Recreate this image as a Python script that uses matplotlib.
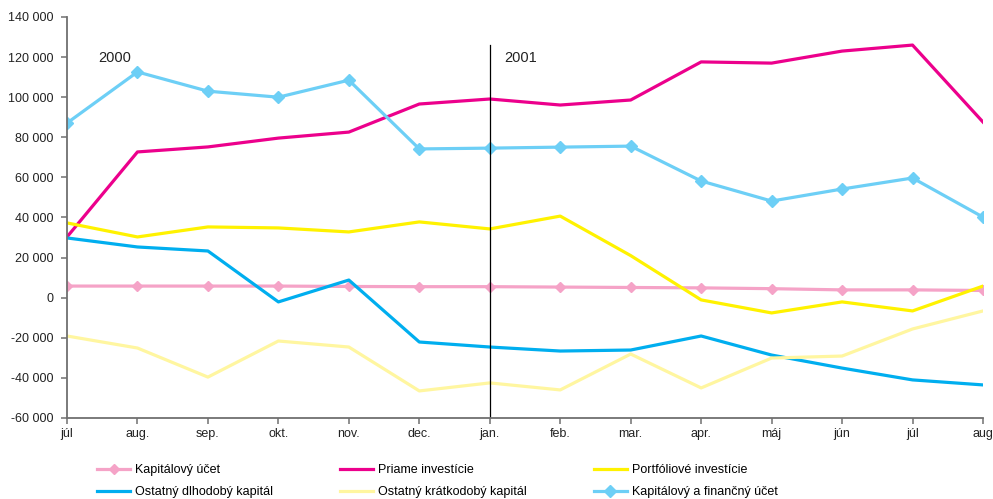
import matplotlib.pyplot as plt
import matplotlib.ticker as mticker
import numpy as np

plt.rcParams['font.family'] = ['Liberation Sans', 'DejaVu Sans']

months = ['júl', 'aug.', 'sep.', 'okt.', 'nov.', 'dec.', 'jan.', 'feb.', 'mar.',
          'apr.', 'máj', 'jún', 'júl', 'aug']

kap_ucet = [5800, 5800, 5800, 5800, 5600, 5500, 5500, 5300, 5100, 4900, 4500, 3900, 3900, 3600]
priame = [30300, 72700, 75200, 79600, 82600, 96600, 99100, 96100, 98600, 117600, 117000, 123000, 126000, 87600]
portfolio = [37300, 30300, 35300, 34800, 32800, 37800, 34300, 40700, 21000, -1100, -7600, -2100, -6600, 5800]
dlhodoby = [29800, 25300, 23300, -2100, 8800, -22100, -24600, -26600, -26100, -19100, -28600, -35100, -41000, -43500]
kratkodoby = [-19100, -25100, -39600, -21600, -24600, -46500, -42500, -46000, -28100, -45000, -30100, -29100, -15600, -6600]
kap_fin = [87100, 112600, 103000, 100000, 108500, 74200, 74600, 75100, 75600, 58200, 48200, 54200, 59700, 40200]

x = np.arange(len(months))

fig = plt.figure(figsize=(9.93, 4.99), dpi=100)
ax = fig.add_axes([67/993, 1 - 418/499, (983 - 67)/993, (418 - 17)/499])

lw = 2.3
h1, = ax.plot(x, kap_ucet, color='#F5A3C7', lw=lw, marker='D', ms=5, label='Kapitálový účet')
h2, = ax.plot(x, priame, color='#EC008C', lw=lw, label='Priame investície')
h3, = ax.plot(x, portfolio, color='#FFF200', lw=lw, label='Portfóliové investície')
h4, = ax.plot(x, dlhodoby, color='#00AEEF', lw=lw, label='Ostatný dlhodobý kapitál')
h5, = ax.plot(x, kratkodoby, color='#FFF6A0', lw=lw, label='Ostatný krátkodobý kapitál')
h6, = ax.plot(x, kap_fin, color='#6DCFF6', lw=lw, marker='D', ms=6, label='Kapitálový a finančný účet')

# oddelenie rokov
ax.plot([6, 6], [126000, -60000], color='black', lw=0.9)
ax.text(0.45, 119500, '2000', fontsize=10.5, color='#222222', va='center')
ax.text(6.2, 119500, '2001', fontsize=10.5, color='#222222', va='center')

ax.set_xlim(0, len(months) - 1)
ax.set_ylim(-60000, 140000)
ax.set_xticks(x)
ax.set_xticklabels(months)
ax.yaxis.set_major_locator(mticker.MultipleLocator(20000))
ax.yaxis.set_major_formatter(mticker.FuncFormatter(lambda v, p: f'{int(v):,}'.replace(',', ' ')))

for s in ['top', 'right']:
    ax.spines[s].set_visible(False)
for s in ['left', 'bottom']:
    ax.spines[s].set_color('#707070')
    ax.spines[s].set_linewidth(1.3)
ax.tick_params(axis='both', colors='#707070', labelcolor='#222222', labelsize=9, length=4, width=1.1)
ax.tick_params(axis='y', pad=6)

handles = [h1, h4, h2, h5, h3, h6]
fig.legend(handles=handles, labels=[h.get_label() for h in handles], ncol=3, frameon=False,
           loc='lower left', bbox_to_anchor=(86/993, -0.021), fontsize=9,
           handlelength=2.6, columnspacing=5.4, labelspacing=0.8, handletextpad=0.4)

fig.savefig('out.png', dpi=100)
